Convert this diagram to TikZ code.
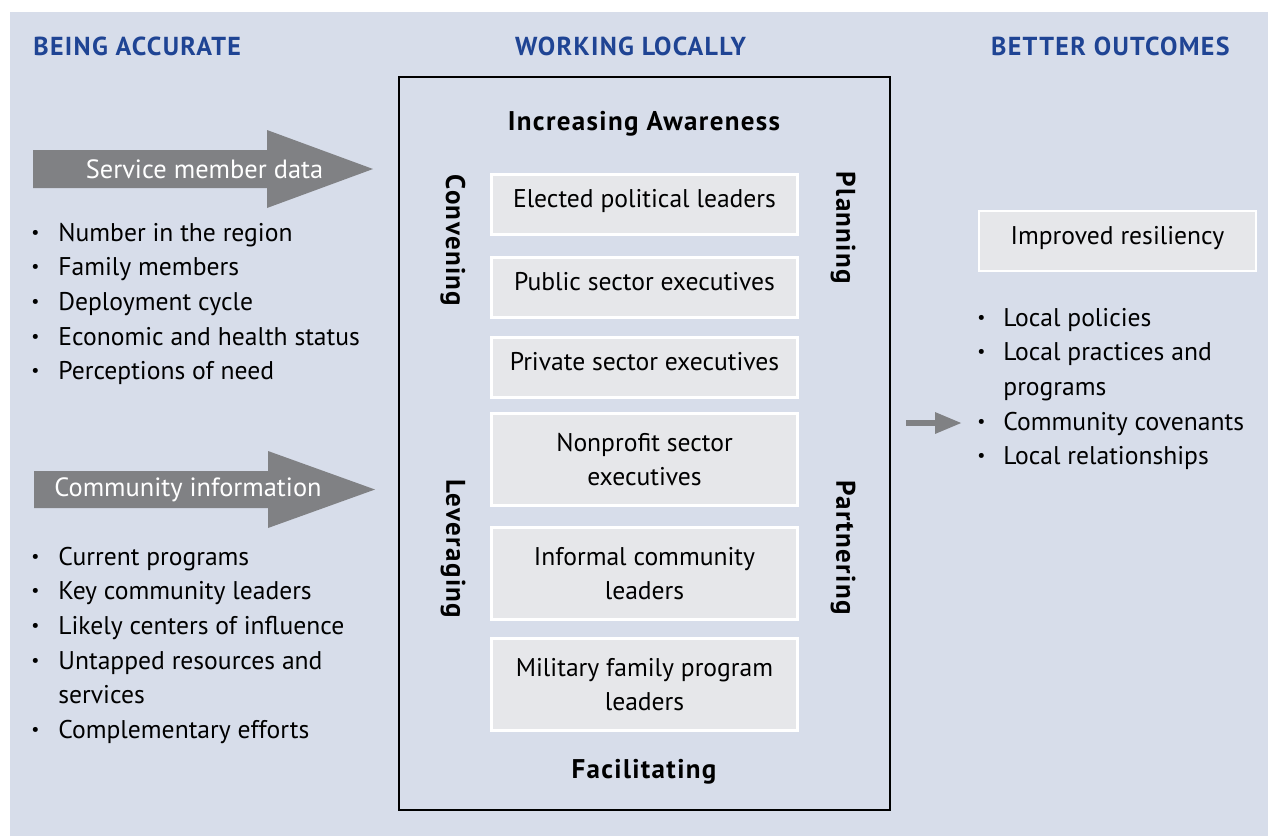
\documentclass[tikz,border=0pt]{standalone}
\usepackage{fontspec}
\usepackage{graphicx}
\setmainfont{PT Sans}
\newfontfamily\wideboldfont{PT Sans}[LetterSpace=5]
\usetikzlibrary{arrows.meta}
\definecolor{bgblue}{RGB}{215,221,234}
\definecolor{boxgray}{RGB}{230,231,234}
\definecolor{arrowgray}{RGB}{128,129,132}
\definecolor{headblue}{RGB}{31,68,148}
\newcommand{\bul}{\raisebox{0.22ex}{\scalebox{0.7}{\textbullet}}}

\begin{document}
\begin{tikzpicture}[x=0.5pt,y=-0.5pt,
  heading/.style={text=headblue,font=\wideboldfont\fontsize{13}{15}\selectfont\bfseries,inner sep=0pt},
  leader/.style={fill=boxgray,draw=white,line width=1.3pt,minimum width=153pt,align=center,inner sep=0pt,font=\fontsize{12.8}{17.35}\selectfont},
  oneline/.style={text height=0.75em,text depth=0.45em},
  bodytext/.style={inner sep=0pt,font=\fontsize{12.8}{17.35}\selectfont},
  boldtext/.style={inner sep=0pt,font=\wideboldfont\fontsize{13.5}{15}\selectfont\bfseries},
  arrowlabel/.style={inner sep=0pt,text=white,font=\fontsize{13.2}{15}\selectfont}]
\useasboundingbox (0,0) rectangle (1268,836);
\fill[bgblue] (10,12) rectangle (1268,836); %background

\node[heading,anchor=base west] (accurate) at (33,55) {BEING ACCURATE};
\node[heading,anchor=base] (locally) at (630.5,55) {WORKING LOCALLY};
\node[heading,anchor=base east] (outcomes) at (1230,55) {BETTER OUTCOMES};

%%%%%%%%%%%%%%%%%%%%%%%%%%%%%%%%%%%%%%%%%%%%%%%%%%%%%%%%%%%%%%%%%%%%%%%%%%%%%%%%
\fill[arrowgray] (33,150) -- (267,150) -- (267,130) -- (373,169) -- (267,208) -- (267,188) -- (33,188) -- cycle; %arrow 1
\node[arrowlabel] (smlabel) at (204.5,169) {Service member data};
\node[bodytext,anchor=base west] (smlist) at (31,241) {\begin{tabular}[t]{@{}p{13.5pt}@{}l@{}}
\bul & Number in the region\\
\bul & Family members\\
\bul & Deployment cycle\\
\bul & Economic and health status\\
\bul & Perceptions of need
\end{tabular}};

\fill[arrowgray] (34,471) -- (268,471) -- (268,451) -- (375,489.5) -- (268,528) -- (268,508) -- (34,508) -- cycle; %arrow 2
\node[arrowlabel] (cilabel) at (188,489.5) {Community information};
\node[bodytext,anchor=base west] (cilist) at (31,565) {\begin{tabular}[t]{@{}p{13.5pt}@{}l@{}}
\bul & Current programs\\
\bul & Key community leaders\\
\bul & Likely centers of influence\\
\bul & Untapped resources and\\
     & services\\
\bul & Complementary efforts
\end{tabular}};

%%%%%%%%%%%%%%%%%%%%%%%%%%%%%%%%%%%%%%%%%%%%%%%%%%%%%%%%%%%%%%%%%%%%%%%%%%%%%%%%
\node[draw=black,line width=1pt,minimum width=245.5pt,minimum height=366.5pt,inner sep=0pt] (wlbox) at (644.5,443.5) {};
\node[boldtext,anchor=base] (awareness) at (644,130) {Increasing Awareness};
\node[boldtext,anchor=base] (facilitating) at (644,778) {Facilitating};

\node[boldtext,rotate=-90] (convening) at (453,240.5) {Convening};
\node[boldtext,rotate=-90] (leveraging) at (453,549) {Leveraging};
\node[boldtext,rotate=-90] (planning) at (843,228) {Planning};
\node[boldtext,rotate=-90] (partnering) at (843,547.5) {Partnering};

\node[leader,oneline,minimum height=30pt] (elected) at (644.5,204.5) {Elected political leaders};
\node[leader,oneline,minimum height=30pt] (public) at (644.5,287.5) {Public sector executives};
\node[leader,oneline,minimum height=30pt] (private) at (644.5,367.5) {Private sector executives};
\node[leader,minimum height=46pt] (nonprofit) at (644.5,459.5) {Nonprofit sector\\executives};
\node[leader,minimum height=46pt] (informal) at (644.5,573.5) {Informal community\\leaders};
\node[leader,minimum height=46pt] (military) at (644.5,684.5) {Military family program\\leaders};

%%%%%%%%%%%%%%%%%%%%%%%%%%%%%%%%%%%%%%%%%%%%%%%%%%%%%%%%%%%%%%%%%%%%%%%%%%%%%%%%
\node[leader,oneline,minimum width=138.5pt,minimum height=30pt] (resiliency) at (1117.5,241) {Improved resiliency};
\node[bodytext,anchor=base west] (outlist) at (977,326) {\begin{tabular}[t]{@{}p{13pt}@{}l@{}}
\bul & Local policies\\
\bul & Local practices and\\
     & programs\\
\bul & Community covenants\\
\bul & Local relationships
\end{tabular}};

\coordinate (outfrom) at (906,423);
\coordinate (outto) at (962,423);
\draw[arrowgray,line width=3pt,-{Triangle[length=13.5pt,width=10pt]}] (outfrom) -- (outto);
\end{tikzpicture}
\end{document}
